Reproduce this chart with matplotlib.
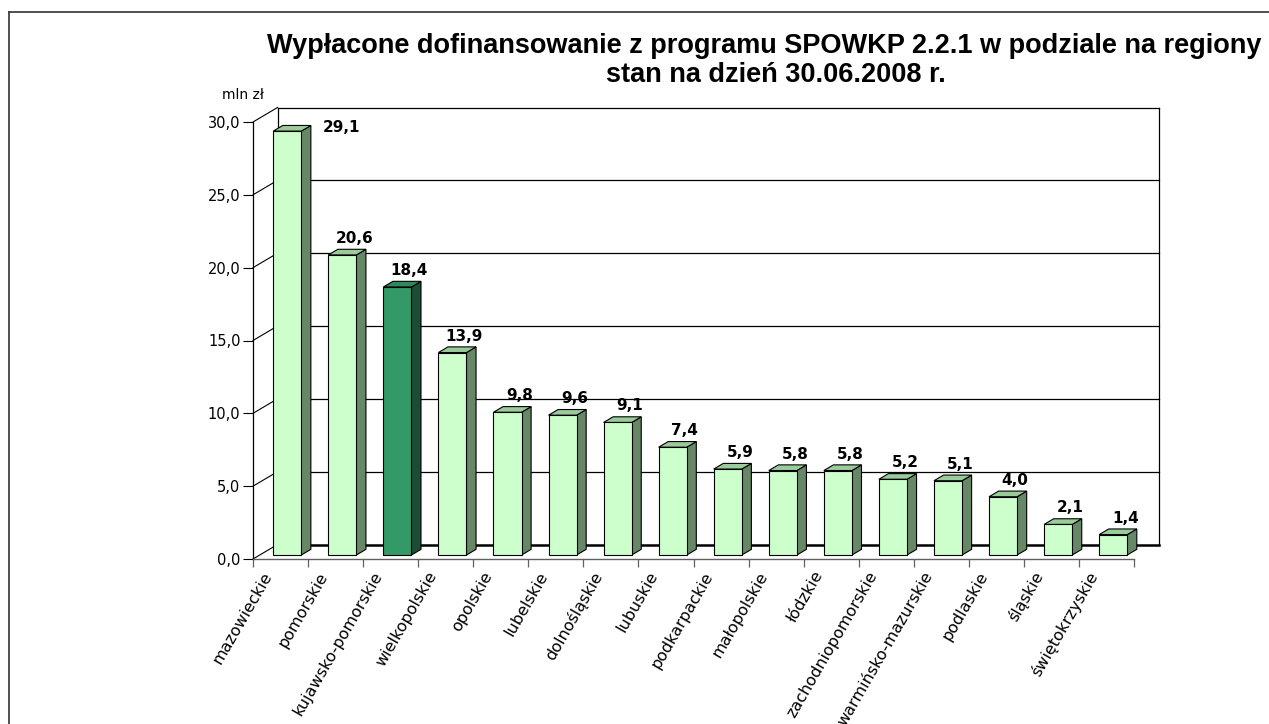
import matplotlib
matplotlib.use("Agg")
import matplotlib.pyplot as plt
from matplotlib.patches import Polygon
from matplotlib.lines import Line2D
from matplotlib.transforms import IdentityTransform, offset_copy

# ---------------- data ----------------
regions = ['mazowieckie', 'pomorskie', 'kujawsko-pomorskie', 'wielkopolskie',
           'opolskie', 'lubelskie', 'dolnośląskie', 'lubuskie', 'podkarpackie',
           'małopolskie', 'łódzkie', 'zachodniopomorskie', 'warmińsko-mazurskie',
           'podlaskie', 'śląskie', 'świętokrzyskie']
values = [29.1, 20.6, 18.4, 13.9, 9.8, 9.6, 9.1, 7.4, 5.9, 5.8, 5.8, 5.2, 5.1,
          4.0, 2.1, 1.4]
highlight = 'kujawsko-pomorskie'
yticks = [0, 5, 10, 15, 20, 25, 30]
ytick_labels = ['0,0', '5,0', '10,0', '15,0', '20,0', '25,0', '30,0']
title1 = 'Wypłacone dofinansowanie z programu SPOWKP 2.2.1 w podziale na regiony'
title2 = 'stan na dzień 30.06.2008 r.'
unit_label = 'mln zł'

# ---------------- style ----------------
W, H = 1269, 724
DX, DY = 24.5, 14.5          # depth of the 3-D box in pixels
D0, D1 = 0.275, 0.665        # bar front / back depth fraction
BW = 0.51                    # bar width (category units)
FRONT, SIDE, TOP = '#CCFFCC', '#668866', '#99CC99'
HFRONT, HSIDE, HTOP = '#339966', '#1A4D33', '#2E8A5C'

fig = plt.figure(figsize=(W / 100, H / 100), dpi=100)
ax = fig.add_axes([253 / W, 1 - 559 / H, 881 / W, 437 / H])
n = len(regions)
ax.set_xlim(0, n)
ax.set_ylim(0, 30)
ax.set_autoscale_on(False)
ax.set_facecolor('none')

def disp(x, y, d):
    px, py = ax.transData.transform((x, y))
    return (px + d * DX, py + d * DY)

def wall_line(p, q, lw=0.9, color='black', z=1):
    ln = Line2D([p[0], q[0]], [p[1], q[1]], transform=IdentityTransform(),
                color=color, lw=lw, clip_on=False, zorder=z)
    ax.add_line(ln)

# back wall, gridlines, side-wall diagonals
for t in yticks:
    wall_line(disp(0, t, 0), disp(0, t, 1), lw=0.8)
    if t > 0:
        wall_line(disp(0, t, 1), disp(n, t, 1), lw=0.9)
wall_line(disp(0, 0, 1), disp(n, 0, 1), lw=1.8)
wall_line(disp(0, 0, 1), disp(0, 30, 1), lw=0.9)
wall_line(disp(n, 0, 1), disp(n, 30, 1), lw=0.9)

# bars (front faces)
xc = [i + 0.5 for i in range(n)]
fronts = [HFRONT if r == highlight else FRONT for r in regions]
front_tr = offset_copy(ax.transData, fig, x=D0 * DX, y=D0 * DY, units='dots')
bars = ax.bar(xc, values, width=BW, color=fronts, edgecolor='black',
              linewidth=0.8, transform=front_tr, clip_on=False, zorder=4)

# side and top faces
for rect, r in zip(bars, regions):
    x0 = rect.get_x()
    x1 = x0 + rect.get_width()
    h = rect.get_height()
    sc = HSIDE if r == highlight else SIDE
    tc = HTOP if r == highlight else TOP
    side = Polygon([disp(x1, 0, D0), disp(x1, h, D0), disp(x1, h, D1), disp(x1, 0, D1)],
                   closed=True, transform=IdentityTransform(), facecolor=sc,
                   edgecolor='black', lw=0.8, clip_on=False, zorder=3)
    top = Polygon([disp(x0, h, D0), disp(x1, h, D0), disp(x1, h, D1), disp(x0, h, D1)],
                  closed=True, transform=IdentityTransform(), facecolor=tc,
                  edgecolor='black', lw=0.8, clip_on=False, zorder=3)
    ax.add_patch(side)
    ax.add_patch(top)

# value labels
for x, v in zip(xc, values):
    txt = f'{v:.1f}'.replace('.', ',')
    if v > 0.9 * 30:
        lx, ly = 54.5, 3.5
    else:
        lx, ly = 12, 16.5
    tr = offset_copy(ax.transData, fig, x=D0 * DX + lx, y=D0 * DY + ly, units='dots')
    ax.text(x, v, txt, transform=tr, ha='center', va='center', fontsize=11,
            fontweight='bold', family='DejaVu Sans', clip_on=False, zorder=6)

# axes / ticks
for s in ['top', 'right']:
    ax.spines[s].set_visible(False)
ax.spines['left'].set_color('black')
ax.spines['left'].set_linewidth(0.9)
ax.spines['bottom'].set_color('#606060')
ax.spines['bottom'].set_linewidth(1.0)
ax.set_yticks(yticks, labels=ytick_labels)
ax.tick_params(axis='y', length=7, width=0.8, pad=2, labelsize=10.5, colors='black')
ax.set_xticks(range(n + 1), labels=[''] * (n + 1))
ax.tick_params(axis='x', length=6, width=0.9, color='#606060')

cat_tr = offset_copy(ax.get_xaxis_transform(), fig, x=-12, y=-14, units='dots')
for x, r in zip(xc, regions):
    ax.text(x, 0, r, transform=cat_tr, rotation=60, rotation_mode='anchor',
            ha='right', va='center', fontsize=11.5, family='DejaVu Sans', clip_on=False)

# unit label and titles
fig.text(243 / W, 1 - 95 / H, unit_label, ha='center', va='center', fontsize=10,
         family='DejaVu Sans')
fig.text(764 / W, 1 - 53 / H, title1, ha='center', va='baseline', fontsize=19.5,
         fontweight='bold', family='Liberation Sans')
fig.text(776 / W, 1 - 82 / H, title2, ha='center', va='baseline', fontsize=19.5,
         fontweight='bold', family='Liberation Sans')

# outer frame
fig.add_artist(Line2D([8.5, 8.5], [H - 12, -5], transform=IdentityTransform(),
                      color='#333333', lw=1.2))
fig.add_artist(Line2D([8.5, W + 5], [H - 12, H - 12], transform=IdentityTransform(),
                      color='#333333', lw=1.2))

fig.savefig('out.png', dpi=100)
